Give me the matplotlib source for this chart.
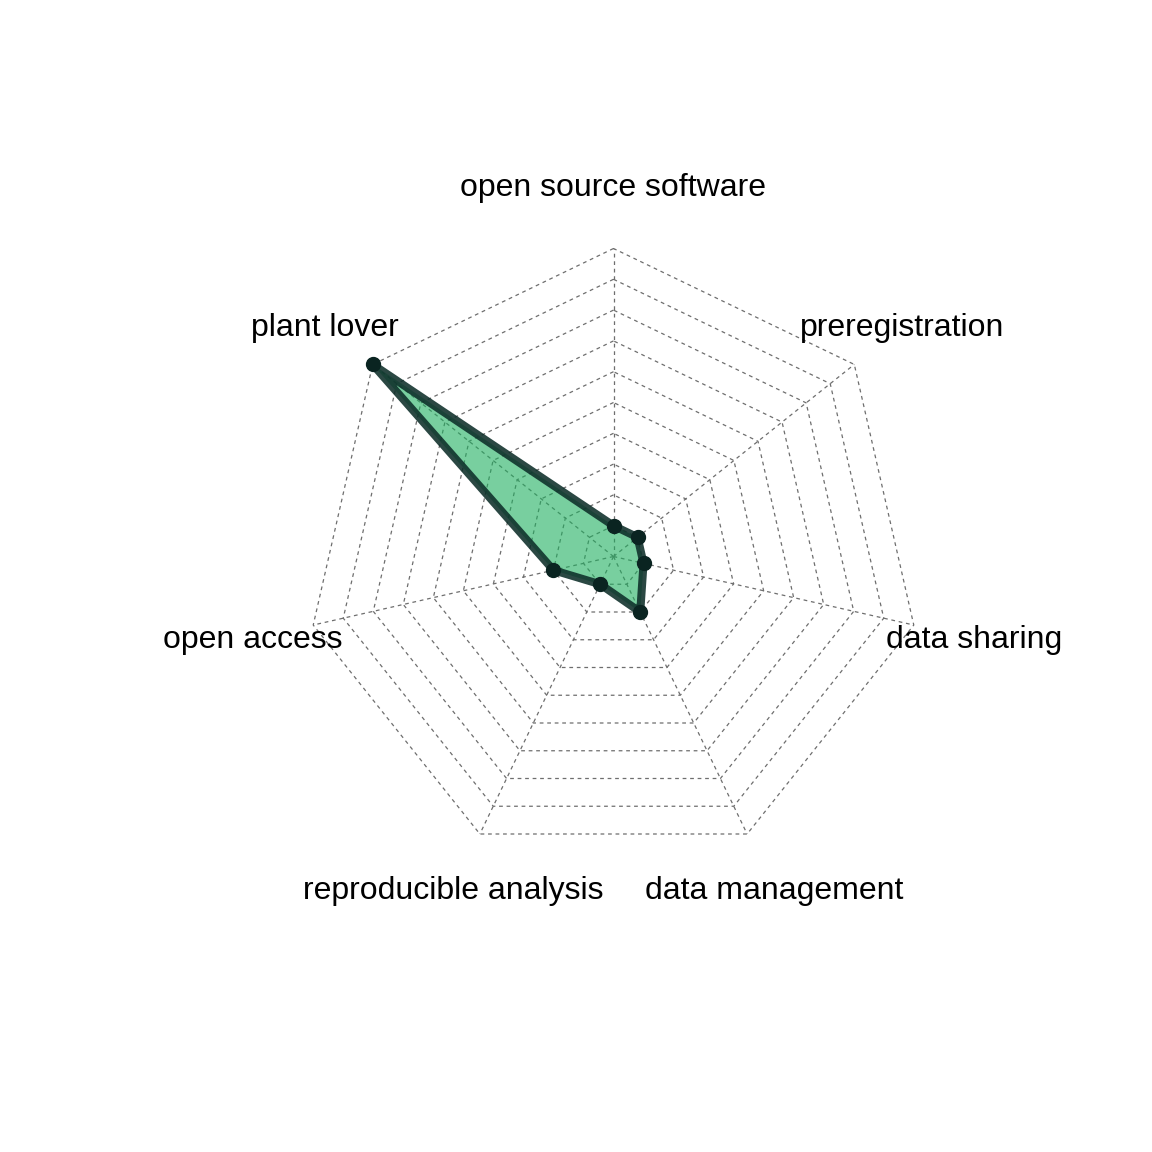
import numpy as np
import matplotlib
matplotlib.use("Agg")
import matplotlib.pyplot as plt

# axes in fmsb order: first one on top, then counter-clockwise
labels = ["open source software", "plant lover", "open access",
          "reproducible analysis", "data management", "data sharing",
          "preregistration"]
values = [0, 9, 1, 0, 1, 0, 0]
vmax = 9
vmin = 0
seg = 9

plt.rcParams["font.family"] = ["Liberation Sans", "DejaVu Sans"]

fig = plt.figure(figsize=(11.52, 11.52), dpi=100)
cx, cy, R = 613.5 / 1152, 1 - 556.5 / 1152, 308 / 1152
ax = fig.add_axes([cx - 1.2 * R, cy - 1.2 * R, 2.4 * R, 2.4 * R])
ax.set_xlim(-1.2, 1.2)
ax.set_ylim(-1.2, 1.2)
ax.set_aspect("equal")
ax.axis("off")

n = len(labels)
theta = np.pi / 2 + np.arange(n) * 2 * np.pi / n
xx, yy = np.cos(theta), np.sin(theta)

# grid polygons and spokes
for i in range(seg + 1):
    f = (i + 1) / (seg + 1)
    ax.plot(np.append(xx, xx[0]) * f, np.append(yy, yy[0]) * f,
            color="#6e6e6e", lw=0.9, ls=(0, (3, 3)), zorder=1)
for k in range(n):
    ax.plot([0, xx[k]], [0, yy[k]], color="#6e6e6e", lw=0.9,
            ls=(0, (3, 3)), zorder=1)

# data polygon
scale = 1 / (seg + 1) + (np.array(values) - vmin) / (vmax - vmin) * seg / (seg + 1)
px, py = xx * scale, yy * scale
ax.fill(px, py, color="#1faf5f", alpha=0.6, lw=0, zorder=2)
ax.plot(np.append(px, px[0]), np.append(py, py[0]), color="#0d2e29",
        alpha=0.88, lw=5.8, solid_joinstyle="round", zorder=3)
ax.plot(px, py, "o", color="#0a2421", ms=10, zorder=4)

for k in range(n):
    ax.text(xx[k] * 1.2, yy[k] * 1.2 - 0.005, labels[k], ha="center",
            va="center", fontsize=23)

fig.savefig("out.png", dpi=100)
